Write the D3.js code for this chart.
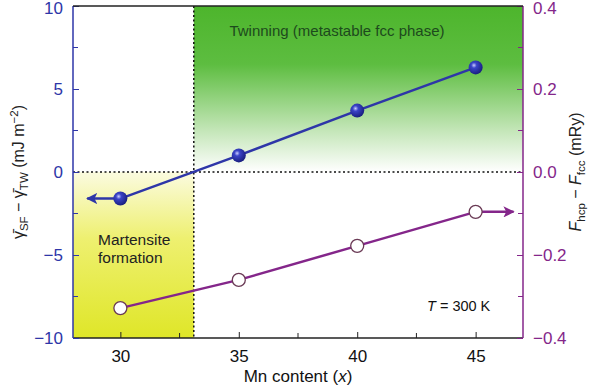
<!DOCTYPE html>
<html><head><meta charset="utf-8">
<script src="https://cdn.jsdelivr.net/npm/d3@7"></script>
<style>body{margin:0;background:#fff}text{font-family:"Liberation Sans",Arial,sans-serif}</style>
</head><body>
<svg id="c" width="600" height="388"></svg>
<script>
const mnContent = [30, 35, 40, 45];
const gammaDiff = [-1.6, 1.0, 3.7, 6.3];         // left axis, mJ m^-2
const freeEnergyDiff = [-0.328, -0.26, -0.178, -0.096]; // right axis, mRy
const xTicks = [30, 35, 40, 45];
const leftTicks = [-10, -5, 0, 5, 10];
const rightTicks = [-0.4, -0.2, 0.0, 0.2, 0.4];
const boundaryX = 33.1;
const blueArrowEnd = 28.6, purpleArrowEnd = 46.6;

const svg = d3.select("#c");
const L = 73, R = 523, T = 6, B = 338;
const x = d3.scaleLinear().domain([28, 47]).range([L, R]);
const yL = d3.scaleLinear().domain([-10, 10]).range([B, T]);
const yR = d3.scaleLinear().domain([-0.4, 0.4]).range([B, T]);
const blue = "#2e36a8", purple = "#84268a";

const defs = svg.append("defs");
const gg = defs.append("linearGradient").attr("id","gG").attr("x1",0).attr("y1",0).attr("x2",0).attr("y2",1);
gg.append("stop").attr("offset","0").attr("stop-color","#4db52c");
gg.append("stop").attr("offset","0.35").attr("stop-color","#5dbd40");
gg.append("stop").attr("offset","0.75").attr("stop-color","#c4e6b8");
gg.append("stop").attr("offset","1").attr("stop-color","#ffffff");
const yg = defs.append("linearGradient").attr("id","yG").attr("x1",0).attr("y1",0).attr("x2",0).attr("y2",1);
yg.append("stop").attr("offset","0").attr("stop-color","#fbfbe0");
yg.append("stop").attr("offset","0.4").attr("stop-color","#eef070");
yg.append("stop").attr("offset","1").attr("stop-color","#dfe628");
const sg = defs.append("radialGradient").attr("id","sph").attr("cx","0.38").attr("cy","0.35").attr("r","0.65");
sg.append("stop").attr("offset","0").attr("stop-color","#c9ccff");
sg.append("stop").attr("offset","0.3").attr("stop-color","#3b44c8");
sg.append("stop").attr("offset","1").attr("stop-color","#1a1f80");
["aB","aP"].forEach((id,i)=>{
  defs.append("marker").attr("id",id).attr("viewBox","0 0 10 10").attr("refX",9).attr("refY",5)
    .attr("markerWidth",4.5).attr("markerHeight",4.5).attr("orient","auto-start-reverse")
    .append("path").attr("d","M0,0L10,5L0,10L2.5,5Z").attr("fill", i?purple:blue);
});

// background regions
svg.append("rect").attr("x",x(boundaryX)).attr("y",T).attr("width",R-x(boundaryX)).attr("height",yL(0)-T).attr("fill","url(#gG)");
svg.append("rect").attr("x",L).attr("y",yL(0)).attr("width",x(boundaryX)-L).attr("height",B-yL(0)).attr("fill","url(#yG)");

// dotted lines
svg.append("line").attr("x1",L).attr("x2",R).attr("y1",yL(0)).attr("y2",yL(0)).attr("stroke","#111").attr("stroke-width",1.5).attr("stroke-dasharray","2,2.5");
svg.append("line").attr("x1",x(boundaryX)).attr("x2",x(boundaryX)).attr("y1",T).attr("y2",B).attr("stroke","#111").attr("stroke-width",1.5).attr("stroke-dasharray","2,2.5");

// axes
const minorX = [32.5, 37.5, 42.5];
const gx = svg.append("g").attr("transform",`translate(0,${B})`)
  .call(d3.axisBottom(x).tickValues(xTicks).tickSize(-6).tickPadding(12).tickFormat(d3.format("d")));
minorX.forEach(v=>gx.append("line").attr("x1",x(v)).attr("x2",x(v)).attr("y1",0).attr("y2",-5).attr("stroke","#222"));
gx.select(".domain").attr("stroke","#222").attr("stroke-width",1.5).attr("d",`M${L},0H${R}`);
gx.selectAll("text").attr("font-size",17).attr("fill","#111");
gx.selectAll(".tick line").attr("stroke","#222");

const gl = svg.append("g").attr("transform",`translate(${L},0)`)
  .call(d3.axisLeft(yL).tickValues(leftTicks).tickSize(-6).tickPadding(10).tickFormat(d=>d<0?"\u2212"+Math.abs(d):d));
[-7.5,-2.5,2.5,7.5].forEach(v=>gl.append("line").attr("x1",0).attr("x2",5).attr("y1",yL(v)).attr("y2",yL(v)).attr("stroke",blue));
gl.select(".domain").attr("stroke",blue).attr("stroke-width",1.5).attr("d",`M0,${T}V${B}`);
gl.selectAll(".tick line").attr("stroke",blue);
gl.selectAll("text").attr("font-size",17).attr("fill",blue).filter(d=>d===10).attr("dy","0.42em");

const gr = svg.append("g").attr("transform",`translate(${R},0)`)
  .call(d3.axisRight(yR).tickValues(rightTicks).tickSize(-6).tickPadding(10).tickFormat(d=>d<0?"\u2212"+Math.abs(d).toFixed(1):d.toFixed(1)));
[-0.3,-0.1,0.1,0.3].forEach(v=>gr.append("line").attr("x1",0).attr("x2",-5).attr("y1",yR(v)).attr("y2",yR(v)).attr("stroke",purple));
gr.select(".domain").attr("stroke",purple).attr("stroke-width",1.5).attr("d",`M0,${T}V${B}`);
gr.selectAll(".tick line").attr("stroke",purple);
gr.selectAll("text").attr("font-size",17).attr("fill",purple).filter(d=>d===0.4).attr("dy","0.42em");

// top border
svg.append("line").attr("x1",L).attr("x2",R).attr("y1",T).attr("y2",T).attr("stroke","#222").attr("stroke-width",1.5);

// series lines
const blueData = mnContent.map((m,i)=>[m,gammaDiff[i]]);
const purpData = mnContent.map((m,i)=>[m,freeEnergyDiff[i]]);
svg.append("path").datum(blueData).attr("fill","none").attr("stroke",blue).attr("stroke-width",2.5)
  .attr("d",d3.line().x(d=>x(d[0])).y(d=>yL(d[1])));
svg.append("path").datum(purpData).attr("fill","none").attr("stroke",purple).attr("stroke-width",2.5)
  .attr("d",d3.line().x(d=>x(d[0])).y(d=>yR(d[1])));
// arrows
svg.append("line").attr("x1",x(mnContent[0])).attr("x2",x(blueArrowEnd)).attr("y1",yL(gammaDiff[0])).attr("y2",yL(gammaDiff[0]))
  .attr("stroke",blue).attr("stroke-width",2.5).attr("marker-end","url(#aB)");
svg.append("line").attr("x1",x(mnContent[3])).attr("x2",x(purpleArrowEnd)).attr("y1",yR(freeEnergyDiff[3])).attr("y2",yR(freeEnergyDiff[3]))
  .attr("stroke",purple).attr("stroke-width",2.5).attr("marker-end","url(#aP)");

// points
svg.selectAll(".bp").data(blueData).join("circle").attr("cx",d=>x(d[0])).attr("cy",d=>yL(d[1])).attr("r",7).attr("fill","url(#sph)");
svg.selectAll(".pp").data(purpData).join("circle").attr("cx",d=>x(d[0])).attr("cy",d=>yR(d[1])).attr("r",6.5)
  .attr("fill","#fff").attr("stroke","#6a3a55").attr("stroke-width",1.3);

// annotations
svg.append("text").attr("x",337).attr("y",36).attr("text-anchor","middle").attr("font-size",15).attr("fill","#1d4a1d").text("Twinning (metastable fcc phase)");
svg.append("text").attr("x",98).attr("y",245).attr("font-size",15.5).attr("fill","#222").text("Martensite");
svg.append("text").attr("x",98).attr("y",263).attr("font-size",15.5).attr("fill","#222").text("formation");
const tt = svg.append("text").attr("x",427).attr("y",311).attr("font-size",14.5).attr("fill","#111");
tt.append("tspan").attr("font-style","italic").text("T");
tt.append("tspan").text(" = 300 K");

// x title
const xt = svg.append("text").attr("x",298).attr("y",382).attr("text-anchor","middle").attr("font-size",17).attr("fill","#111");
xt.append("tspan").text("Mn content (");
xt.append("tspan").attr("font-style","italic").text("x");
xt.append("tspan").text(")");

// left title
const lt = svg.append("text").attr("transform",`translate(24,${yL(0)}) rotate(-90)`).attr("text-anchor","middle").attr("font-size",16).attr("fill","#222");
lt.append("tspan").text("\u03B3\u0304");
lt.append("tspan").attr("font-size",11.5).attr("dy",4).text("SF");
lt.append("tspan").attr("dy",-4).text(" \u2212 \u03B3\u0304");
lt.append("tspan").attr("font-size",11.5).attr("dy",4).text("TW");
lt.append("tspan").attr("dy",-4).text(" (mJ m");
lt.append("tspan").attr("font-size",11.5).attr("dy",-6).text("\u22122");
lt.append("tspan").attr("dy",6).text(")");

// right title
const rt = svg.append("text").attr("transform",`translate(581,${yL(0)}) rotate(-90)`).attr("text-anchor","middle").attr("font-size",16).attr("fill","#222");
rt.append("tspan").attr("font-style","italic").text("F");
rt.append("tspan").attr("font-size",11.5).attr("dy",4).text("hcp");
rt.append("tspan").attr("dy",-4).text(" \u2212 ");
rt.append("tspan").attr("font-style","italic").text("F");
rt.append("tspan").attr("font-size",11.5).attr("dy",4).text("fcc");
rt.append("tspan").attr("dy",-4).text(" (mRy)");
</script>
</body></html>
